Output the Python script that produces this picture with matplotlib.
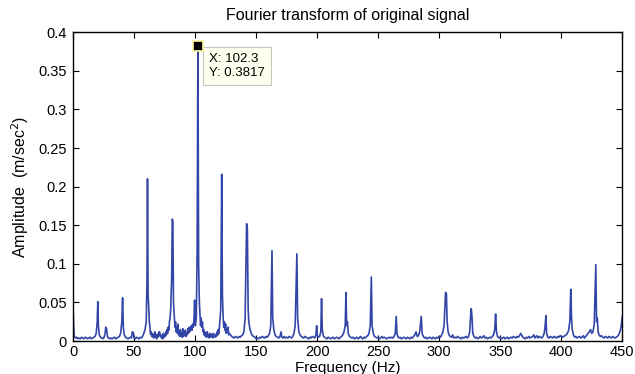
import matplotlib
matplotlib.use("Agg")
import matplotlib.pyplot as plt

plt.rcParams["font.family"] = ["Liberation Sans", "DejaVu Sans"]

# spectrum (Hz, m/sec^2)
freq = [
  0, 0.5, 1, 2, 3, 4, 5, 6, 7, 8, 9, 10, 11, 12, 13, 14, 15, 16, 17, 18, 19, 19.8, 20.3, 20.8, 21.5, 22.5,
  23.5, 24.5, 25.5, 26.3, 26.8, 27.5, 28.2, 29, 30, 31, 32, 33, 34, 35, 36, 37, 38, 39, 40, 40.6, 41.2,
  42, 43, 44, 45, 46, 47, 48, 48.5, 49.5, 50, 51, 52, 53, 54, 55, 56, 57, 58, 59, 60, 60.6, 61, 61.5, 62,
  62.5, 63, 63.5, 64, 64.5, 65, 65.5, 66, 66.5, 67, 67.5, 68, 68.5, 69, 69.5, 70, 70.5, 71, 71.5, 72,
  72.5, 73, 73.5, 74, 74.5, 75, 75.5, 76, 76.5, 77, 77.5, 78, 78.5, 79, 79.5, 80, 80.8, 81.3, 81.8, 82.3,
  83, 83.5, 84, 84.5, 85, 85.5, 86, 86.5, 87, 87.5, 88, 88.5, 89, 89.5, 90, 90.5, 91, 91.5, 92, 92.5,
  93, 93.5, 94, 94.5, 95, 95.5, 96, 96.5, 97, 97.5, 98, 98.5, 99, 99.6, 100.2, 101, 101.7, 102.3,
  102.9, 103.5, 104, 104.5, 105, 105.5, 106, 106.5, 107, 107.5, 108, 108.5, 109, 109.5, 110, 110.5, 111,
  111.5, 112, 112.5, 113, 113.5, 114, 114.5, 115, 115.5, 116, 116.5, 117, 117.5, 118, 118.5, 119, 119.5,
  120, 121, 121.8, 122.4, 123, 123.5, 124, 124.5, 125, 125.5, 126, 126.5, 127, 127.5, 128, 129, 130, 131,
  132, 133, 134, 135, 136, 137, 138, 139, 140,
  141, 142.2, 142.8, 143.5, 144, 145, 146, 147, 148, 149, 150, 151, 152, 153, 154, 155, 156, 157, 158,
  159, 160, 161, 162, 163, 163.6, 164.5, 165.5, 166.5, 167.5, 168.5, 169.5, 170.5, 171, 172, 173, 174,
  175, 176, 177, 178, 179, 180, 181, 182, 183.4, 184, 185, 186, 187, 188, 189, 190, 191, 192, 193, 194,
  195, 196, 197, 198, 199, 199.6, 200.2, 201, 202, 203, 203.6, 204.2, 205, 206, 207, 208, 209, 210, 211,
  212, 213, 214, 215, 216, 217, 218, 219, 220, 221, 222, 223, 223.6, 224.2, 224.8, 225.5, 226.5, 227.5,
  228.5, 229.5, 230.5, 231.5, 232.5, 233.5, 234.5, 235.5, 236.5, 237.5, 238.5, 239.5, 240.5, 241.5,
  242.5, 243.5, 244.4, 245, 246, 247, 248, 249, 250, 251, 252, 253, 254, 255, 256, 257, 258, 259, 260,
  261, 262, 263, 264, 264.8, 265.4, 266, 267, 268, 269, 270, 271, 272, 273, 274, 275, 276, 277, 278, 279,
  280, 281, 282, 283, 284, 285.3, 286, 287, 288, 289, 290, 291, 292, 293, 294, 295, 296, 297, 298, 299,
  300, 301, 302, 303, 304, 305.2, 305.9, 306.5, 307.3, 308, 309, 310, 311, 312, 313, 314, 315, 316, 317,
  318, 319, 320, 321, 322, 323, 324, 325, 325.8, 326.3, 326.9, 327.5, 328.5, 329.5, 330.5, 331.5, 332.5,
  333.5, 334.5, 335.5, 336.5, 337.5, 338.5, 339.5, 340.5, 341.5, 342.5, 343.5, 344.5, 345.5, 346.2,
  346.9, 347.8, 348.8, 349.8, 350.8, 351.8, 352.8, 353.8, 354.8, 355.8, 356.8, 357.8, 358.8, 359.8,
  360.8, 361.8, 362.8, 363.8, 364.8, 365.8, 366.8, 367.5, 368.5, 369.5, 370.5, 371.5, 372.5, 373.5,
  374.5, 375.5, 376.5, 377.5, 378.3, 379, 380, 381, 382, 383, 384, 385, 386, 386.8, 387.4, 388, 389, 390,
  391, 392, 393, 394, 395, 396, 397, 398, 399, 400, 401, 402, 403, 404, 405, 406, 407, 407.8, 408.4, 409,
  410, 411, 412, 413, 414, 415, 416, 417, 418, 419, 420, 421, 422, 423, 424, 425, 426, 427, 428.3, 428.9,
  429.5, 430.2, 431, 432, 433, 434, 435, 436, 437, 438, 439, 440, 441, 442, 443, 444, 445, 446, 447, 448,
  449, 450,
]
amp = [
  0.045, 0.02, 0.006, 0.004, 0.005, 0.003, 0.004, 0.003, 0.005, 0.004, 0.003, 0.005, 0.004, 0.003, 0.004,
  0.005, 0.003, 0.004, 0.005, 0.006, 0.010, 0.025, 0.051, 0.020, 0.008, 0.005,
  0.004, 0.003, 0.005, 0.010, 0.018, 0.016, 0.006, 0.004, 0.003, 0.004, 0.003, 0.004, 0.005, 0.003, 0.004,
  0.005, 0.006, 0.010, 0.025, 0.056, 0.018,
  0.008, 0.005, 0.004, 0.003, 0.004, 0.005, 0.004, 0.012, 0.011, 0.004, 0.003, 0.005, 0.004, 0.003, 0.005,
  0.004, 0.006, 0.010, 0.015, 0.025, 0.080, 0.210, 0.060, 0.045,
  0.025, 0.018, 0.009, 0.012, 0.006, 0.010, 0.005, 0.008, 0.004, 0.012, 0.006, 0.006, 0.003, 0.009, 0.005,
  0.007, 0.012, 0.012, 0.006, 0.008,
  0.004, 0.006, 0.003, 0.010, 0.005, 0.008, 0.006, 0.012, 0.008, 0.015, 0.010, 0.018, 0.014, 0.025, 0.030,
  0.040, 0.080, 0.158, 0.155, 0.050,
  0.030, 0.018, 0.025, 0.012, 0.018, 0.010, 0.022, 0.008, 0.012, 0.006, 0.015, 0.007, 0.010, 0.005, 0.016,
  0.006, 0.008, 0.012, 0.014, 0.006,
  0.010, 0.008, 0.016, 0.010, 0.018, 0.012, 0.015, 0.017, 0.020, 0.014, 0.022, 0.018, 0.024, 0.053, 0.020,
  0.030, 0.120, 0.3817,
  0.100, 0.050, 0.035, 0.020, 0.030, 0.018, 0.025, 0.012, 0.015, 0.008, 0.012, 0.006, 0.010, 0.005, 0.012,
  0.006, 0.008,
  0.004, 0.010, 0.005, 0.006, 0.009, 0.008, 0.004, 0.010, 0.006, 0.007, 0.005, 0.009, 0.006, 0.012, 0.008,
  0.015, 0.010,
  0.020, 0.040, 0.216, 0.060, 0.030, 0.018, 0.025, 0.014, 0.022, 0.010, 0.015, 0.012, 0.018, 0.008, 0.010,
  0.008, 0.006, 0.005,
  0.004, 0.006, 0.005, 0.004, 0.006, 0.005, 0.007, 0.008, 0.012,
  0.030, 0.152, 0.148, 0.040, 0.025, 0.015, 0.010, 0.007, 0.006, 0.005, 0.003, 0.004, 0.003, 0.005, 0.004,
  0.006, 0.005, 0.004, 0.006,
  0.005, 0.007, 0.010, 0.020, 0.117, 0.030, 0.015, 0.008, 0.006, 0.005, 0.004, 0.006, 0.012, 0.005, 0.004,
  0.006, 0.004,
  0.005, 0.004, 0.006, 0.005, 0.004, 0.006, 0.010, 0.020, 0.113, 0.030, 0.012, 0.008, 0.006, 0.005, 0.004,
  0.006, 0.005, 0.004, 0.003, 0.005,
  0.004, 0.006, 0.005, 0.004, 0.008, 0.020, 0.006, 0.005, 0.006, 0.012, 0.055, 0.015, 0.007, 0.005, 0.004,
  0.003, 0.005, 0.004, 0.003,
  0.004, 0.005, 0.003, 0.004, 0.005, 0.004, 0.003, 0.005, 0.006, 0.008, 0.012, 0.020, 0.063, 0.020, 0.025,
  0.010, 0.006, 0.005,
  0.004, 0.005, 0.003, 0.004, 0.005, 0.003, 0.004, 0.006, 0.004, 0.003, 0.005, 0.004, 0.006, 0.007,
  0.010, 0.020, 0.083, 0.020, 0.010, 0.006, 0.005, 0.004, 0.005, 0.003, 0.004, 0.006, 0.004, 0.005, 0.004,
  0.003, 0.004, 0.005, 0.004,
  0.005, 0.004, 0.006, 0.010, 0.032, 0.010, 0.006, 0.004, 0.005, 0.003, 0.004, 0.005, 0.004, 0.003, 0.005,
  0.004, 0.003, 0.005, 0.004, 0.006,
  0.008, 0.012, 0.006, 0.007, 0.012, 0.032, 0.010, 0.006, 0.004, 0.005, 0.003, 0.004, 0.005, 0.004, 0.003,
  0.005, 0.004, 0.003, 0.005, 0.004,
  0.006, 0.005, 0.008, 0.012, 0.020, 0.063, 0.061, 0.025, 0.012, 0.008, 0.006, 0.005, 0.008, 0.004, 0.005,
  0.004, 0.006, 0.005, 0.004,
  0.003, 0.005, 0.004, 0.005, 0.006, 0.004, 0.006, 0.012, 0.035, 0.042, 0.030, 0.010, 0.006, 0.004, 0.005,
  0.003, 0.004,
  0.006, 0.004, 0.005, 0.007, 0.004, 0.005, 0.003, 0.004, 0.005, 0.004, 0.006, 0.008, 0.015, 0.035,
  0.012, 0.006, 0.004, 0.005, 0.003, 0.004, 0.005, 0.003, 0.004, 0.005, 0.003, 0.004, 0.005, 0.004,
  0.006, 0.005, 0.004, 0.006, 0.005, 0.007, 0.010, 0.008, 0.005, 0.004, 0.003, 0.005, 0.004, 0.006,
  0.004, 0.005, 0.006, 0.008, 0.004, 0.005, 0.007, 0.004, 0.006, 0.005, 0.004, 0.006, 0.010, 0.020, 0.033,
  0.010, 0.005, 0.004,
  0.006, 0.005, 0.004, 0.006, 0.005, 0.004, 0.006, 0.005, 0.007, 0.006, 0.005, 0.006, 0.007, 0.008, 0.010,
  0.014, 0.025, 0.067, 0.030, 0.015,
  0.008, 0.005, 0.006, 0.004, 0.005, 0.006, 0.004, 0.005, 0.007, 0.004, 0.006, 0.008, 0.010, 0.012, 0.015,
  0.010, 0.012, 0.022, 0.099, 0.025,
  0.030, 0.012, 0.008, 0.006, 0.007, 0.005, 0.004, 0.006, 0.005, 0.004, 0.006, 0.005, 0.004, 0.006, 0.005,
  0.004, 0.005, 0.006, 0.008, 0.012,
  0.018, 0.032,
]

x_ticks = [0, 50, 100, 150, 200, 250, 300, 350, 400, 450]
y_ticks = [0, 0.05, 0.1, 0.15, 0.2, 0.25, 0.3, 0.35, 0.4]
y_tick_labels = ["0", "0.05", "0.1", "0.15", "0.2", "0.25", "0.3", "0.35", "0.4"]
tip_x, tip_y = 102.3, 0.3817

fig = plt.figure(figsize=(6.35, 3.74), dpi=100)
ax = fig.add_axes([0.115, 0.088, 0.865, 0.826])

ax.plot(freq, amp, color="#3346a8", linewidth=1.2)

ax.set_xlim(0, 450)
ax.set_ylim(0, 0.4)
ax.set_xticks(x_ticks)
ax.set_yticks(y_ticks)
ax.set_yticklabels(y_tick_labels)
ax.tick_params(direction="in", top=True, right=True, length=4, labelsize=10.5, pad=4.5)
ax.tick_params(axis="x", pad=3)
for s in ax.spines.values():
  s.set_linewidth(1.0)

ax.set_title("Fourier transform of original signal", fontsize=11.5, pad=9)
ax.set_xlabel("Frequency (Hz)", fontsize=11, labelpad=1)
ax.set_ylabel("Amplitude  (m/sec$^2$)", fontsize=11.5, labelpad=5)

# data tip
ax.plot([tip_x], [tip_y], marker="s", markersize=7, color="black",
        markeredgecolor="#fff4a0", markeredgewidth=1.2, zorder=5)
ax.annotate(f"X: {tip_x}\nY: {tip_y}", xy=(tip_x, tip_y), xytext=(8, -5),
            textcoords="offset points", ha="left", va="top", fontsize=9.5,
            linespacing=1.15,
            bbox=dict(boxstyle="square,pad=0.45", facecolor="#fffff0",
                      edgecolor="#c8c8b8", linewidth=0.8))

fig.savefig("out.png", dpi=100)
